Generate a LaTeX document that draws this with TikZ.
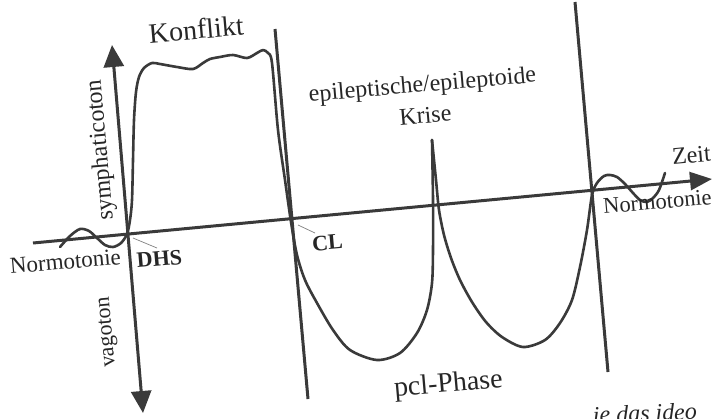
\documentclass[tikz,border=0pt]{standalone}
\usepackage{fontspec}
\setmainfont{Liberation Serif}
\usetikzlibrary{arrows.meta}
\definecolor{ink}{HTML}{3A3A3A}
\definecolor{txt}{HTML}{262626}
\begin{document}
\begin{tikzpicture}[x=1pt,y=-1pt,
  axis/.style={line width=3pt, draw=ink},
  tipend/.style={-{Triangle[length=22pt,width=18pt]}},
  tipboth/.style={{Triangle[length=22pt,width=20pt]}-{Triangle[length=22pt,width=20pt]}},
  curve/.style={line width=2.6pt, draw=ink, line join=round, line cap=round},
  lbl/.style={text=txt, inner sep=0pt, font=\fontsize{24}{24}\selectfont, rotate=5},
  bold/.style={lbl, font=\fontsize{22}{22}\selectfont\bfseries},
  lead/.style={draw=gray, line width=0.7pt}]
\useasboundingbox[fill=white] (0,0) rectangle (717,418);

% axes and phase lines
\coordinate (zL) at (33,243);
\coordinate (zR) at (712,179);
\coordinate (vT) at (112,45);
\coordinate (vB) at (143,413);
\coordinate (c2T) at (275,29);
\coordinate (c2B) at (308,399);
\coordinate (c3T) at (575,2);
\coordinate (c3B) at (608,372);
\draw[axis,tipend] (zL) -- (zR);
\draw[axis,tipboth] (vB) -- (vT);
\draw[axis] (c2T) -- (c2B);
\draw[axis] (c3T) -- (c3B);

% curve
\draw[curve] plot[smooth, tension=0.5] coordinates {
 (60,247) (70,236) (80,229) (89,231) (97,238) (105,245) (113,247) (121,243)
 (127,234) (130,220) (132,200) (133,160) (134,120) (136,92) (139,77) (144,68)
 (152,63) (160,64) (177,67) (193,69) (203,63) (210,59) (220,57) (233,55)
 (247,58) (257,53) (263,50) (268,53) (272,63) (278,130) (285,180) (291,222)
 (297,255) (305,280) (317,303) (333,330) (350,350) (377,360) (400,353)
 (417,333) (427,310) (432,283) (433,250) (433,200) (432,140)};
\draw[curve] plot[smooth, tension=0.5] coordinates {
 (432,140) (436,180) (439,210) (444,235) (451,258) (460,280) (472,302)
 (486,322) (502,337) (523,347) (545,340) (560,323) (572,300) (580,267)
 (587,230) (592,195) (597,183) (604,176) (610,175) (617,177) (625,184)
 (633,193) (640,200) (647,202) (653,198) (659,190) (665,173)};

% labels
\node[lbl, font=\fontsize{28}{28}\selectfont, anchor=base] (konflikt) at (197,39) {Konflikt};
\node[lbl, anchor=base] (epi) at (423,92) {epileptische/epileptoide};
\node[lbl, anchor=base] (krise) at (426,123) {Krise};
\node[lbl, anchor=base] (zeit) at (692,163) {Zeit};
\node[lbl, font=\fontsize{22.5}{22.5}\selectfont, anchor=base] (normR) at (658,209) {Normotonie};
\node[lbl, font=\fontsize{23}{23}\selectfont, anchor=base] (normL) at (66,269) {Normotonie};
\node[bold, anchor=base] (dhs) at (160,266) {DHS};
\node[bold, anchor=base] (cl) at (328,250) {CL};
\node[lbl, font=\fontsize{28}{28}\selectfont, anchor=base] (pcl) at (449,392) {pcl-Phase};
\node[lbl, rotate=90] (sym) at (101,150) {symphaticoton};
\node[lbl, font=\fontsize{22}{22}\selectfont, rotate=90] (vago) at (108,332) {vagoton};
\node[text=txt, inner sep=0pt, font=\fontsize{24}{24}\selectfont\itshape, rotate=2, anchor=base west] (foot) at (593,423) {ie das ideo};

% leader lines
\coordinate (dhsP) at (133,238);
\coordinate (dhsE) at (157,248);
\coordinate (clP) at (298,225);
\coordinate (clE) at (315,233);
\draw[lead] (dhsP) -- (dhsE);
\draw[lead] (clP) -- (clE);
\end{tikzpicture}
\end{document}
